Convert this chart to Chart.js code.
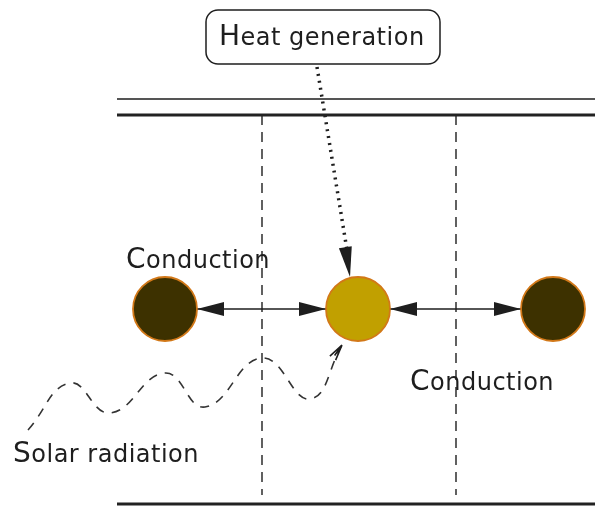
<!DOCTYPE html>
<html>
<head>
<meta charset="utf-8">
<script src="https://cdn.jsdelivr.net/npm/chart.js@4.4.0/dist/chart.umd.min.js"></script>
<style>
  html, body { margin: 0; padding: 0; background: #fff; }
  #wrap { width: 595px; height: 518px; }
</style>
</head>
<body>
<div id="wrap"><canvas id="diagram" width="595" height="518"></canvas></div>
<script>
// diagram geometry, in picture units (x to the right, y downwards)
const railX = [117, 595];
const railY = [99, 115, 504];
const wallX = [262, 456];
const wallY = [115, 495];
const nodeX = [165, 358, 553];
const nodeY = [309, 309, 309];
const nodeHeated = [false, true, false];
const nodeR = 32;
const conductionLinks = [[0, 1], [1, 2]];
const heatPath = [[317, 67], [350, 277]];
const solarPath = [[28, 430], [70, 383], [110, 413], [165, 373], [205, 407], [262, 358], [310, 399], [342, 345]];
const labelText = ['Heat generation', 'Conduction', 'Conduction', 'Solar radiation'];
const labelX = [219, 126, 410, 13];
const labelY = [45, 268, 390, 462];
const heatBox = [206, 10, 440, 64];

const ink = '#1e1e1e';
const pt = (x, y) => ({ x, y });

const datasets = [];

datasets.push({
  label: 'nodes',
  data: nodeX.map((x, i) => pt(x, nodeY[i])),
  pointRadius: nodeR,
  pointBackgroundColor: nodeHeated.map((h) => (h ? '#c1a000' : '#3d3100')),
  pointBorderColor: '#d27818',
  pointBorderWidth: 1.8,
  showLine: false,
  clip: false
});

railY.forEach((y, i) => {
  datasets.push({
    label: 'rail' + i,
    data: railX.map((x) => pt(x, y)),
    showLine: true,
    borderColor: i === 0 ? '#555' : '#222',
    borderWidth: i === 0 ? 2 : 3,
    pointRadius: 0
  });
});

wallX.forEach((x, i) => {
  datasets.push({
    label: 'wall' + i,
    data: wallY.map((y) => pt(x, y)),
    showLine: true,
    borderColor: ink,
    borderWidth: 1.4,
    borderDash: [10, 7],
    pointRadius: 0
  });
});

conductionLinks.forEach(([a, b], i) => {
  datasets.push({
    label: 'conduction' + i,
    data: [pt(nodeX[a] + nodeR, nodeY[a]), pt(nodeX[b] - nodeR, nodeY[b])],
    showLine: true,
    borderColor: ink,
    borderWidth: 1.5,
    pointRadius: 0
  });
});

datasets.push({
  label: 'heat',
  data: [pt(heatPath[0][0], heatPath[0][1]), pt(347, 250)],
  showLine: true,
  borderColor: ink,
  borderWidth: 3.5,
  borderDash: [2, 5],
  pointRadius: 0
});

datasets.push({
  label: 'solar',
  data: solarPath.map(([x, y]) => pt(x, y)),
  showLine: true,
  borderColor: '#333',
  borderWidth: 1.6,
  borderDash: [9, 8],
  tension: 0.45,
  pointRadius: 0
});

function arrowHead(ctx, tip, from, len, half, filled) {
  const ang = Math.atan2(tip.y - from.y, tip.x - from.x);
  ctx.save();
  ctx.translate(tip.x, tip.y);
  ctx.rotate(ang);
  ctx.beginPath();
  ctx.moveTo(0, 0);
  ctx.lineTo(-len, -half);
  if (filled) {
    ctx.lineTo(-len, half);
    ctx.closePath();
    ctx.fillStyle = ink;
    ctx.fill();
  } else {
    ctx.moveTo(0, 0);
    ctx.lineTo(-len, half);
    ctx.moveTo(0, 0);
    ctx.lineTo(-len * 0.8, 0);
    ctx.strokeStyle = ink;
    ctx.lineWidth = 1.6;
    ctx.stroke();
  }
  ctx.restore();
}

function drawLabel(ctx, text, x, y) {
  ctx.fillStyle = ink;
  ctx.textBaseline = 'alphabetic';
  ctx.letterSpacing = '0.5px';
  ctx.font = '28px "DejaVu Sans"';
  ctx.fillText(text[0], x, y);
  const w = ctx.measureText(text[0]).width;
  ctx.font = '24px "DejaVu Sans"';
  ctx.fillText(text.slice(1), x + w, y);
  ctx.letterSpacing = '0px';
}

const diagramPlugin = {
  id: 'diagram',
  afterDatasetsDraw(chart) {
    const { ctx } = chart;
    const sx = chart.scales.x;
    const sy = chart.scales.y;
    const px = (x, y) => ({ x: sx.getPixelForValue(x), y: sy.getPixelForValue(y) });

    // conduction arrowheads at both ends
    conductionLinks.forEach(([a, b]) => {
      const left = px(nodeX[a] + nodeR, nodeY[a]);
      const right = px(nodeX[b] - nodeR, nodeY[b]);
      arrowHead(ctx, left, right, 27, 7, true);
      arrowHead(ctx, right, left, 27, 7, true);
    });

    // heat generation arrowhead
    arrowHead(ctx, px(heatPath[1][0], heatPath[1][1]), px(heatPath[0][0], heatPath[0][1]), 30, 6.5, true);

    // solar radiation open arrowhead
    const n = solarPath.length;
    arrowHead(ctx, px(solarPath[n - 1][0], solarPath[n - 1][1]), px(330, 362), 16, 3.5, false);

    // heat generation box
    const p0 = px(heatBox[0], heatBox[1]);
    const p1 = px(heatBox[2], heatBox[3]);
    ctx.save();
    ctx.beginPath();
    ctx.roundRect(p0.x, p0.y, p1.x - p0.x, p1.y - p0.y, 12);
    ctx.fillStyle = '#fff';
    ctx.fill();
    ctx.strokeStyle = ink;
    ctx.lineWidth = 1.5;
    ctx.stroke();

    labelText.forEach((t, i) => {
      const p = px(labelX[i], labelY[i]);
      drawLabel(ctx, t, p.x, p.y);
    });
    ctx.restore();
  }
};

new Chart(document.getElementById('diagram'), {
  type: 'scatter',
  data: { datasets },
  options: {
    responsive: false,
    animation: false,
    events: [],
    layout: { padding: 0, autoPadding: false },
    scales: {
      x: { type: 'linear', min: 0, max: 595, display: false },
      y: { type: 'linear', min: 0, max: 518, reverse: true, display: false }
    },
    plugins: {
      legend: { display: false },
      tooltip: { enabled: false }
    }
  },
  plugins: [diagramPlugin]
});
</script>
</body>
</html>
